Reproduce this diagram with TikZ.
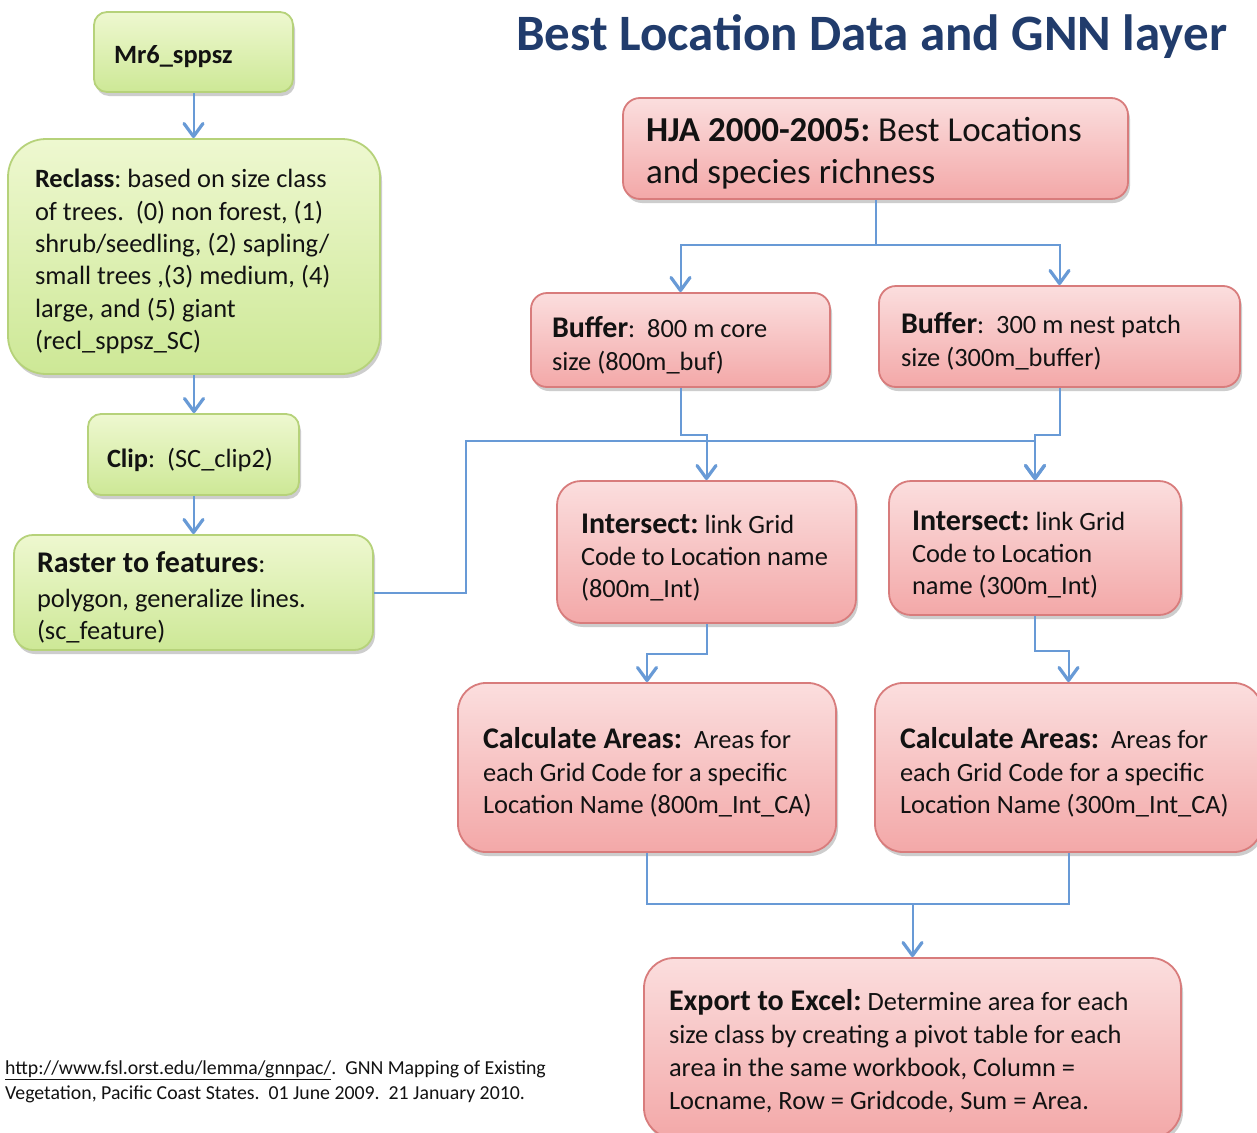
\documentclass[tikz,border=0pt]{standalone}
\usepackage{fontspec}
\setmainfont{Carlito}
\usetikzlibrary{arrows.meta,shadows}

\definecolor{titleblue}{RGB}{33,60,108}
\definecolor{linkblue}{RGB}{104,154,214}
\definecolor{greentop}{RGB}{238,248,208}
\definecolor{greenbot}{RGB}{205,232,150}
\definecolor{greenedge}{RGB}{182,210,122}
\definecolor{pinktop}{RGB}{251,222,222}
\definecolor{pinkbot}{RGB}{243,168,168}
\definecolor{pinkedge}{RGB}{216,124,124}
\definecolor{inktext}{RGB}{18,18,18}

% one line of box text
\newcommand\lne[1]{\hbox{#1}}
% a block of lines with some room above the first one
\newcommand\lines[2][10pt]{\vbox{\kern#1 #2}}
% larger bold heading inside a box
\newcommand\hd[1]{{\fontsize{30pt}{32.5pt}\selectfont\bfseries #1}}
\newcommand\bodyfont[1]{\fontsize{26.4pt}{#1}\selectfont\frenchspacing}

\tikzset{
  box/.style={rounded corners=#1, line width=1.8pt, inner ysep=0pt,
    align=flush left, text=inktext,
    drop shadow={shadow xshift=2pt, shadow yshift=-4pt, opacity=0.28, fill=black!70}},
  greenbox/.style={box=#1, draw=greenedge, top color=greentop, bottom color=greenbot},
  pinkbox/.style={box=#1, draw=pinkedge, top color=pinktop, bottom color=pinkbot},
  link/.style={draw=linkblue, line width=2pt},
  arrow/.style={link, -{Straight Barb[length=13pt, width=19pt, line width=3.2pt, round]}},
}

\begin{document}
\begin{tikzpicture}[x=1pt, y=-1pt]
\clip (0,0) rectangle (1257,1132);
\fill[white] (0,0) rectangle (1257,1132);

% title
\node[text=titleblue, font=\fontsize{51pt}{58pt}\selectfont\bfseries, inner sep=0pt]
  (title) at (871.5,37) {Best Location Data and GNN layer};

% left column (green)
\node[greenbox=13pt, minimum height=80pt, text width=159pt, inner xsep=20pt,
  font=\bodyfont{32pt}] (mr6) at (193.5,52) {\lines{\lne{\bfseries Mr6\_sppsz}}};

\node[greenbox=38pt, minimum height=235pt, text width=318pt, inner xsep=27pt,
  font=\bodyfont{32.4pt}] (reclass) at (194,256.5) {\lines{%
  \lne{\textbf{Reclass}: based on size class}
  \lne{of trees.~ (0) non forest, (1)}
  \lne{shrub/seedling, (2) sapling/}
  \lne{small trees ,(3) medium, (4)}
  \lne{large, and (5) giant}
  \lne{(recl\_sppsz\_SC)}}};

\node[greenbox=13pt, minimum height=81pt, text width=173pt, inner xsep=19pt,
  font=\bodyfont{32pt}] (clip) at (193.5,454.5) {\lines{\lne{\textbf{Clip}:~ (SC\_clip2)}}};

\node[greenbox=19pt, minimum height=115pt, text width=313pt, inner xsep=23pt,
  font=\bodyfont{32pt}] (raster) at (193.5,592.5) {\lines{%
  \lne{\hd{Raster to features}:}\kern3pt
  \lne{polygon, generalize lines.}
  \lne{(sc\_feature)}}};

% right column (pink)
\node[pinkbox=17pt, minimum height=101pt, text width=459pt, inner xsep=23pt,
  font=\fontsize{35pt}{42pt}\selectfont\frenchspacing] (hja) at (875.5,148.5) {\lines{%
  \lne{\textbf{HJA 2000-2005:} Best Locations}
  \lne{and species richness}}};

\node[pinkbox=16pt, minimum height=94pt, text width=257pt, inner xsep=21pt,
  font=\bodyfont{33pt}] (buf8) at (680.5,340) {\lines{%
  \lne{\hd{Buffer}:~ 800 m core}
  \lne{size (800m\_buf)}}};

\node[pinkbox=17pt, minimum height=101pt, text width=317pt, inner xsep=22pt,
  font=\bodyfont{33pt}] (buf3) at (1059.5,336.5) {\lines{%
  \lne{\hd{Buffer}:~ 300 m nest patch}
  \lne{size (300m\_buffer)}}};

\node[pinkbox=24pt, minimum height=142pt, text width=251pt, inner xsep=24pt,
  font=\bodyfont{32pt}] (int8) at (706.5,552) {\lines[12pt]{%
  \lne{\hd{Intersect:} link Grid}
  \lne{Code to Location name}
  \lne{(800m\_Int)}}};

\node[pinkbox=22pt, minimum height=134pt, text width=246pt, inner xsep=23pt,
  font=\bodyfont{32pt}] (int3) at (1035,548) {\lines[14pt]{%
  \lne{\hd{Intersect:} link Grid}
  \lne{Code to Location}
  \lne{name (300m\_Int)}}};

\node[pinkbox=28pt, minimum height=169pt, text width=328pt, inner xsep=25pt,
  font=\bodyfont{32.5pt}] (calc8) at (647,767.5) {\lines{%
  \lne{\hd{Calculate Areas:}~ Areas for}
  \lne{each Grid Code for a specific}
  \lne{Location Name (800m\_Int\_CA)}}};

\node[pinkbox=28pt, minimum height=169pt, text width=337pt, inner xsep=25pt,
  font=\bodyfont{32.5pt}] (calc3) at (1068.5,767.5) {\lines{%
  \lne{\hd{Calculate Areas:}~ Areas for}
  \lne{each Grid Code for a specific}
  \lne{Location Name (300m\_Int\_CA)}}};

\node[pinkbox=30pt, minimum height=180pt, text width=487pt, inner xsep=25pt,
  font=\bodyfont{33pt}] (export) at (912.5,1048) {\lines[7pt]{%
  \lne{\hd{Export to Excel:} Determine area for each}
  \lne{size class by creating a pivot table for each}
  \lne{area in the same workbook, Column =}
  \lne{Locname, Row = Gridcode, Sum = Area.}}};

% source note
\node[anchor=base west, align=left, inner sep=0pt, text=inktext,
  font=\fontsize{19.8pt}{25pt}\selectfont\frenchspacing] (note) at (5,1099) {%
  \underline{http://www.fsl.orst.edu/lemma/gnnpac/}.~ GNN Mapping of Existing\\
  Vegetation, Pacific Coast States.~ 01 June 2009.~ 21 January 2010.};

% connectors, left column
\draw[arrow] (mr6.south) -- (mr6.south |- reclass.north);
\draw[arrow] (reclass.south) -- (reclass.south |- clip.north);
\draw[arrow] (clip.south) -- (clip.south |- raster.north);

% connectors, right column
\path (hja.south) ++(0,45) coordinate (hjasplit);
\draw[link] (hja.south) -- (hjasplit);
\draw[arrow] (hjasplit) -| (buf8.north);
\draw[arrow] (hjasplit) -| (buf3.north);

\draw[arrow] (buf8.south) -- ++(0,47) -| (int8.north);
\draw[arrow] (buf3.south) -- ++(0,47) -| (int3.north);

\coordinate (rbend) at (466,441);
\draw[arrow] (raster.east) -| (rbend) -| (int3.north);

\draw[arrow] (int8.south) -- ++(0,30) -| (calc8.north);
\draw[arrow] (int3.south) -- ++(0,35) -| (calc3.north);

\path (export.north) ++(0,-53) coordinate (cmerge);
\draw[link] (calc8.south) |- (cmerge) -| (calc3.south);
\draw[arrow] (cmerge) -- (export.north);
\end{tikzpicture}
\end{document}
